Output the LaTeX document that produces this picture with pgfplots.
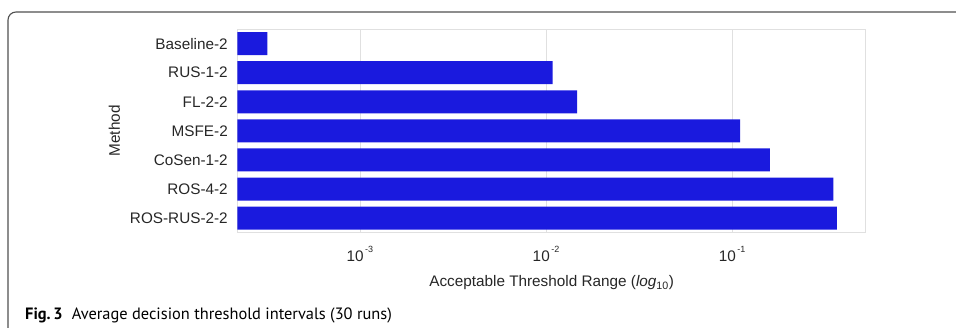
\documentclass[border=0pt]{standalone}
\usepackage{pgfplots}
\pgfplotsset{compat=1.18}
\usepackage{fontspec}
\setmainfont{Liberation Sans}
\newfontfamily\capfont{PT Sans}
\definecolor{barblue}{RGB}{26,26,222}
\definecolor{gridgray}{RGB}{224,224,224}
\definecolor{framegray}{RGB}{80,80,80}
\begin{document}
\begin{tikzpicture}[x=1pt,y=1pt]
\useasboundingbox (0,0) rectangle (956,327);
% figure frame
\draw[framegray, line width=1.1pt] (8,-2) -- (8,307) arc[start angle=180,end angle=90,radius=8] -- (958,315);
\begin{axis}[
  at={(237.3pt,94.3pt)}, anchor=south west,
  scale only axis, width=628.7pt, height=203.7pt,
  xbar, bar width=23pt,
  xmode=log, log origin x=infty,
  xmin=2.19e-4, xmax=0.525,
  ymin=-0.5, ymax=6.5, y dir=reverse,
  ytick={0,1,2,3,4,5,6},
  yticklabels={Baseline-2,RUS-1-2,FL-2-2,MSFE-2,CoSen-1-2,ROS-4-2,ROS-RUS-2-2},
  xtick={1e-3,1e-2,1e-1},
  xticklabels={10\raisebox{1.1ex}{\fontsize{9}{9}\selectfont\,-3},10\raisebox{1.1ex}{\fontsize{9}{9}\selectfont\,-2},10\raisebox{1.1ex}{\fontsize{9}{9}\selectfont\,-1}},
  xminorticks=false,
  major tick length=0pt,
  xmajorgrids, grid style={gridgray, line width=0.8pt},
  axis line style={gridgray, line width=1pt},
  tick label style={font=\fontsize{15.3}{18}\selectfont, text=black!85},
  yticklabel style={xshift=-6pt},
  xticklabel style={yshift=-10pt},
  label style={font=\fontsize{15.3}{18}\selectfont, text=black!85},
  xlabel={Acceptable Threshold Range (\textit{log}\textsubscript{10})},
  ylabel={Method},
  xlabel style={yshift=-7pt},
  ylabel style={yshift=3pt},
]
\addplot[fill=barblue, draw=none] coordinates {
(3.18e-4,0)
(0.01087,1)
(0.01472,2)
(0.1104,3)
(0.160,4)
(0.351,5)
(0.366,6)
};
\end{axis}
\node[anchor=base west, inner sep=0pt, font=\capfont\fontsize{16.4}{19}\selectfont] at (25,7.7) {\textbf{Fig.\,3}\hspace{0.55em}Average decision threshold intervals (30 runs)};
\end{tikzpicture}
\end{document}
